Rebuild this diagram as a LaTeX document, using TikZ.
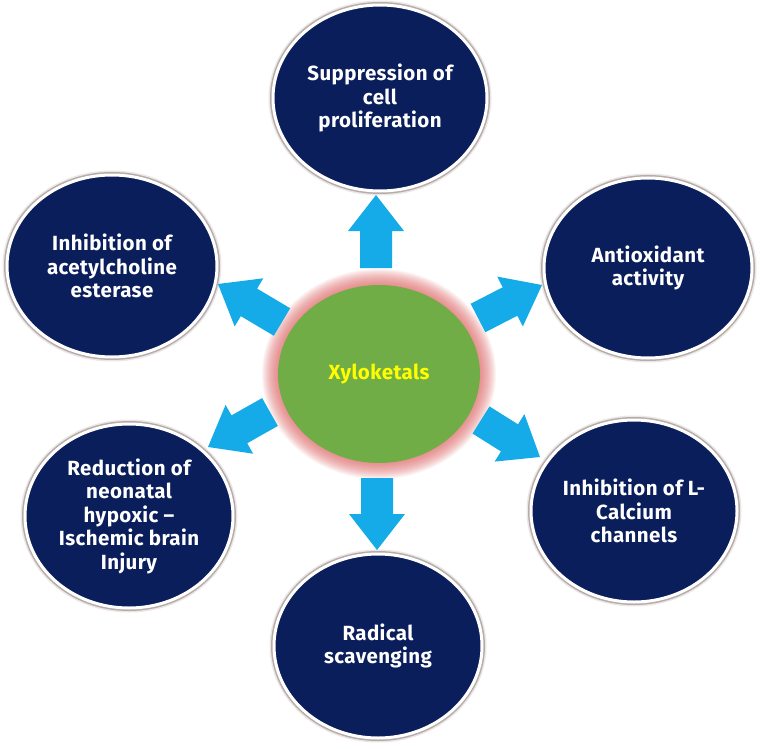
\documentclass[tikz,border=0pt]{standalone}
\usepackage{fontspec}
\setmainfont{Fira Sans}[LetterSpace=2]
\usetikzlibrary{calc,shapes.geometric}
\definecolor{navy}{RGB}{10,30,92}
\definecolor{arrowblue}{RGB}{21,170,232}
\definecolor{leafgreen}{RGB}{112,173,71}
\definecolor{glowpink}{RGB}{225,100,100}
\definecolor{shadowgray}{RGB}{120,100,95}
\definecolor{textyellow}{RGB}{255,255,0}
\newcommand\blockarrow[2]{%
  \coordinate (#1-b) at ($(#2)!36pt!(#1)$);
  \fill[arrowblue] ($(#1)!16pt!90:(#2)$) -- ($(#1-b)!16pt!90:(#2)$) -- ($(#1-b)!28pt!90:(#2)$) -- (#2) -- ($(#1-b)!28pt!-90:(#2)$) -- ($(#1-b)!16pt!-90:(#2)$) -- ($(#1)!16pt!-90:(#2)$) -- cycle;
}
\tikzset{
  effect/.style={ellipse, inner sep=0pt, fill=navy, draw=white, line width=3pt,
    preaction={draw=shadowgray, line width=9pt, opacity=0.15},
    preaction={draw=shadowgray, line width=6pt, opacity=0.45},
    text=white, align=center, font=\fontsize{20.5}{23.5}\selectfont\bfseries},
  hub/.style={ellipse, inner sep=0pt, fill=leafgreen, minimum width=202pt, minimum height=178pt,
    text=textyellow, font=\fontsize{20.5}{24}\selectfont\bfseries}
}
\begin{document}
\begin{tikzpicture}[x=1pt,y=-1pt]
\useasboundingbox (0,0) rectangle (760,749);
\fill[white] (0,0) rectangle (760,749);
% glow around hub
\coordinate (cc) at (379,374);
\foreach \i in {1,...,16}{
  \fill[glowpink, opacity=0.065] (cc) ellipse ({101+\i} and {89+\i});
}
\node[hub] (hub) at (cc) {Xyloketals};
% outer effects
\node[effect, minimum width=214pt, minimum height=186pt] (top) at (380,98) {Suppression of\\cell\\proliferation};
\node[effect, minimum width=208pt, minimum height=180pt] (ur) at (648,268) {Antioxidant\\activity};
\node[effect, minimum width=206pt, minimum height=182pt] (lr) at (634,511) {Inhibition of L-\\Calcium\\channels};
\node[effect, minimum width=208pt, minimum height=184pt] (bot) at (378,646) {Radical\\scavenging};
\node[effect, minimum width=208pt, minimum height=184pt] (ll) at (129,516) {Reduction of\\neonatal\\hypoxic –\\Ischemic brain\\Injury};
\node[effect, minimum width=210pt, minimum height=182pt] (ul) at (112,266) {Inhibition of\\acetylcholine\\esterase};
% arrows
\coordinate (a1t) at (376,268); \coordinate (a1h) at (376,195);
\coordinate (a2t) at (478,318); \coordinate (a2h) at (542,285);
\coordinate (a3t) at (481,420); \coordinate (a3h) at (540,457);
\coordinate (a4t) at (377,478); \coordinate (a4h) at (377,550);
\coordinate (a5t) at (270,412); \coordinate (a5h) at (208,447);
\coordinate (a6t) at (282,322); \coordinate (a6h) at (218,284);
\blockarrow{a1t}{a1h}
\blockarrow{a2t}{a2h}
\blockarrow{a3t}{a3h}
\blockarrow{a4t}{a4h}
\blockarrow{a5t}{a5h}
\blockarrow{a6t}{a6h}
\end{tikzpicture}
\end{document}
